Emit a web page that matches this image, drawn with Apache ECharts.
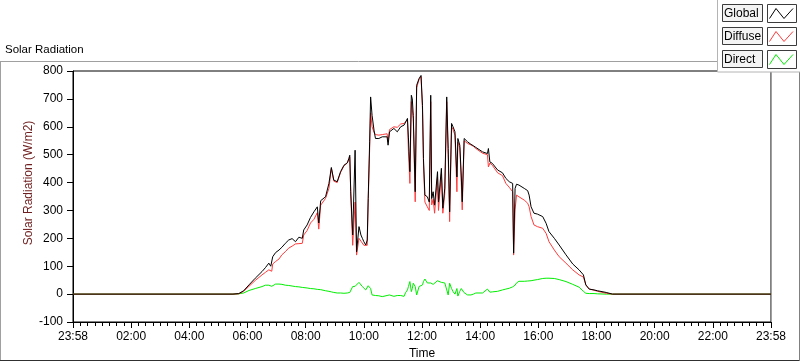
<!DOCTYPE html>
<html>
<head>
<meta charset="utf-8">
<script src="https://cdn.jsdelivr.net/npm/echarts@6/dist/echarts.min.js"></script>
<style>
  html, body { margin: 0; padding: 0; background: #fff; }
  #main { width: 800px; height: 361px; }
</style>
</head>
<body>
<div id="main"></div>
<script>
// readings taken off the plot (W/m2), one value per time stamp
const times = ['00:00','05:30','05:42','05:52','06:03','06:16','06:30','06:37','06:44','06:48',
  '06:50','06:52','06:58','07:05','07:11','07:18','07:25','07:32','07:39','07:46',
  '07:53','07:56','08:03','08:10','08:17','08:24','08:27','08:31','08:41','08:48',
  '08:53','08:58','09:05','09:12','09:19','09:26','09:29','09:31','09:33','09:37',
  '09:42','09:45','09:50','09:54','09:57','10:00','10:04','10:07','10:09','10:12',
  '10:14','10:17','10:21','10:24','10:31','10:38','10:48','10:50','10:53','11:02',
  '11:09','11:16','11:23','11:26','11:30','11:32','11:35','11:38','11:40','11:42',
  '11:46','11:49','11:54','11:58','12:01','12:03','12:06','12:11','12:15','12:18',
  '12:20','12:23','12:26','12:32','12:34','12:40','12:43','12:47','12:51','12:54',
  '12:57','13:01','13:04','13:08','13:12','13:14','13:18','13:21','13:23','13:27',
  '13:34','13:41','13:46','13:51','14:05','14:15','14:17','14:20','14:25','14:36',
  '14:46','14:53','15:00','15:07','15:09','15:12','15:15','15:20','15:31','15:38',
  '15:41','15:45','15:51','15:58','16:09','16:16','16:22','16:33','16:43','16:57',
  '17:11','17:24','17:33','17:38','17:45','17:55','18:02','18:20','18:33','24:00'];

const globalVals = [0,0,2,12,33,57,81,95,111,100,
  93,134,149,158,168,182,194,199,188,204,
  200,230,248,275,295,313,255,335,349,397,
  454,409,403,439,462,471,486,498,367,212,
  516,152,242,212,200,188,176,194,343,546,
  707,641,588,558,558,564,564,534,582,594,
  582,600,606,612,630,560,439,713,700,641,
  367,749,773,784,677,486,355,349,330,713,
  343,367,319,439,330,451,308,380,707,522,
  295,612,600,582,420,558,534,427,331,558,
  546,537,532,526,510,504,522,474,469,445,
  435,415,403,397,147,379,394,391,379,371,
  355,313,290,287,278,254,224,200,176,141,
  108,87,69,33,18,15,12,6,0,0];

const diffuseVals = [0,0,1,10,28,49,69,78,87,85,
  82,108,117,126,141,152,165,172,180,181,
  182,212,228,255,268,292,233,319,343,379,
  451,405,400,436,460,470,484,492,360,175,
  330,140,200,190,185,175,170,175,330,520,
  650,600,580,572,570,572,575,545,590,600,
  598,610,612,618,625,510,397,690,690,630,
  331,740,770,780,660,470,330,313,300,690,
  320,340,290,420,300,430,290,360,690,500,
  260,600,590,570,367,545,525,400,302,550,
  540,535,530,522,505,500,456,470,462,435,
  425,397,383,367,140,302,355,349,337,326,
  313,278,248,242,236,218,188,158,134,111,
  87,69,61,33,18,14,10,3,0,0];

const directVals = [0,0,1,4,13,20,27,32,32,26,
  28,34,36,36,35,32,31,29,27,26,
  24,23,22,20,19,17,17,16,12,10,
  8,6,4,4,3,4,5,6,8,27,
  28,35,42,45,27,20,15,20,30,36,
  20,-3,-4,-5,-6,-9,-5,-3,-3,-8,
  -5,-5,-8,5,15,27,45,9,20,39,
  27,-3,27,30,33,45,54,40,43,40,
  38,35,33,48,45,42,44,40,35,-3,
  39,20,9,0,20,-7,10,20,25,5,
  -3,-3,0,4,4,18,25,7,8,10,
  15,18,21,26,28,32,40,46,46,47,
  47,48,50,52,56,57,57,56,52,45,
  35,25,10,3,2,2,1,0,0,0];

const seriesNames = ['Global', 'Diffuse', 'Direct'];
const seriesColors = ['#000000', '#ff3b3b', '#00ee00'];
const xTickLabels = ['23:58','02:00','04:00','06:00','08:00','10:00','12:00',
  '14:00','16:00','18:00','20:00','22:00','23:58'];

function toMin(t) {
  var p = t.split(':');
  return (+p[0]) * 60 + (+p[1]);
}

function pairs(vals) {
  return times.map(function (t, i) { return [toMin(t), vals[i]]; });
}

const font = '"Liberation Sans", Arial, sans-serif';
const allVals = [globalVals, diffuseVals, directVals];

// legend drawn like the LabVIEW plot legend (text box + swatch box)
var legendEls = [];
legendEls.push({
  type: 'rect', shape: { x: 717.5, y: -1, width: 90, height: 73 },
  style: { fill: '#fff', stroke: '#b4b4b4', lineWidth: 1 }, z: 100
});
seriesNames.forEach(function (name, i) {
  var y = 4.5 + i * 23;
  legendEls.push({
    type: 'rect', shape: { x: 722.5, y: y, width: 40, height: 17 },
    style: { fill: '#f4f4f4', stroke: '#3c3c3c', lineWidth: 1 }, z: 101
  });
  legendEls.push({
    type: 'text', x: 724, y: y + 9,
    style: { text: name, fill: '#000', font: '12px ' + font, textVerticalAlign: 'middle' },
    z: 102
  });
  legendEls.push({
    type: 'rect', shape: { x: 767.5, y: y, width: 29, height: 18 },
    style: { fill: '#fff', stroke: '#3c3c3c', lineWidth: 1 }, z: 101
  });
  legendEls.push({
    type: 'polyline',
    shape: { points: [[769.5, y + 14], [776, y + 4], [784, y + 14], [793, y + 4]] },
    style: { stroke: seriesColors[i], lineWidth: 1, fill: null }, z: 102
  });
});

let option = {
  backgroundColor: '#fff',
  animation: false,
  title: {
    text: 'Solar Radiation',
    left: 5,
    top: 44,
    padding: 0,
    textStyle: { fontSize: 11.5, fontWeight: 'normal', color: '#000', fontFamily: font }
  },
  grid: {
    left: 73, right: 29, top: 71, bottom: 39,
    outerBoundsMode: 'none',
    containLabel: false,
    show: true, borderColor: '#000', borderWidth: 1, backgroundColor: 'transparent'
  },
  xAxis: {
    type: 'value',
    min: 0, max: 1440, interval: 120,
    name: 'Time',
    nameLocation: 'middle',
    nameGap: 25,
    nameTextStyle: { color: '#000', fontSize: 12, fontFamily: font },
    axisLine: { show: true, onZero: false, lineStyle: { color: '#000', width: 1 } },
    axisTick: { show: true, length: 6, lineStyle: { color: '#000' } },
    minorTick: { show: true, splitNumber: 8, length: 4, lineStyle: { color: '#000' } },
    axisLabel: {
      color: '#000', fontSize: 12, fontFamily: font, margin: 9,
      showMinLabel: true, showMaxLabel: true,
      formatter: function (v) { return xTickLabels[Math.round(v / 120)]; }
    },
    splitLine: { show: false }
  },
  yAxis: {
    type: 'value',
    min: -100, max: 800, interval: 100,
    axisLine: { show: true, onZero: false, lineStyle: { color: '#000', width: 1 } },
    axisTick: { show: true, length: 6, lineStyle: { color: '#000' } },
    axisLabel: { color: '#000', fontSize: 12, fontFamily: font, margin: 10 },
    splitLine: { show: false }
  },
  graphic: [
    // panel frame
    { type: 'line', shape: { x1: 0, y1: 61.5, x2: 717, y2: 61.5 }, style: { stroke: '#a0a0a0', lineWidth: 1 }, z: 90 },
    { type: 'line', shape: { x1: 0.5, y1: 61, x2: 0.5, y2: 361 }, style: { stroke: '#a0a0a0', lineWidth: 1 }, z: 90 },
    { type: 'line', shape: { x1: 0, y1: 360.5, x2: 800, y2: 360.5 }, style: { stroke: '#303030', lineWidth: 1 }, z: 90 },
    { type: 'line', shape: { x1: 799.5, y1: 0, x2: 799.5, y2: 361 }, style: { stroke: '#808080', lineWidth: 1 }, z: 90 },
    // grey right edge of plot
    { type: 'line', shape: { x1: 771.5, y1: 72, x2: 771.5, y2: 322 }, style: { stroke: '#a0a0a0', lineWidth: 1 }, z: 90 },
    {
      type: 'text', x: 29, y: 183, rotation: Math.PI / 2,
      style: {
        text: 'Solar Radiation (W/m2)', fill: '#6e1e1e', font: '12px ' + font,
        textAlign: 'center', textVerticalAlign: 'middle'
      }, z: 90
    }
  ].concat(legendEls),
  series: seriesNames.map(function (name, i) {
    return {
      name: name,
      type: 'line',
      data: pairs(allVals[i]),
      showSymbol: false,
      symbol: 'none',
      z: 3 - i,
      lineStyle: { color: seriesColors[i], width: 1 },
      itemStyle: { color: seriesColors[i] }
    };
  })
};

let myChart = echarts.init(document.getElementById('main'));
myChart.setOption(option);
</script>
</body>
</html>
